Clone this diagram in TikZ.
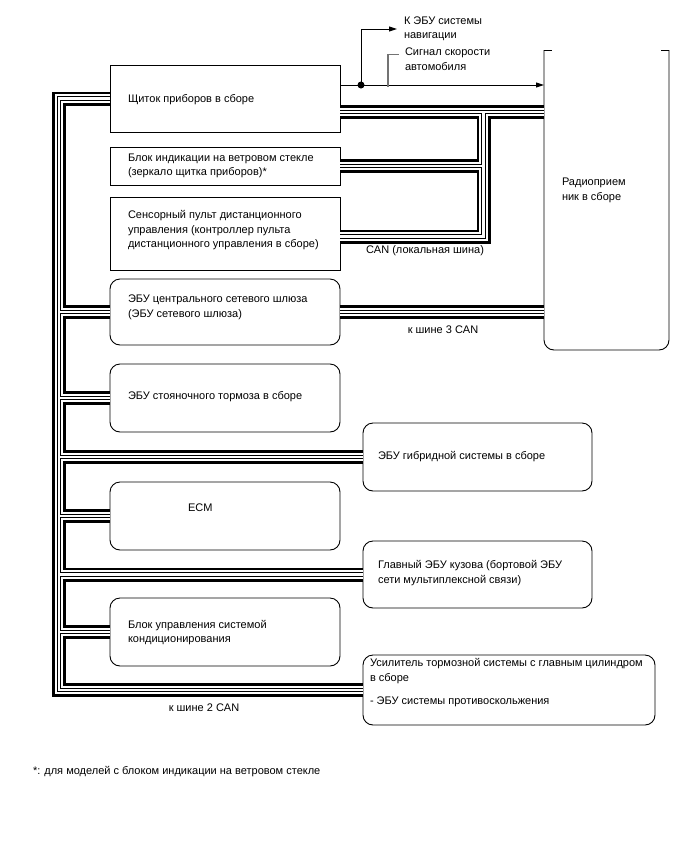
\documentclass[tikz,border=0pt]{standalone}
\usepackage{fontspec}
\setmainfont{Liberation Sans}
\usetikzlibrary{arrows.meta}
\begin{document}
\begin{tikzpicture}[x=1pt,y=-1pt,
  every node/.style={inner sep=0pt, outer sep=0pt},
  txt/.style={anchor=west, align=left, font=\fontsize{11}{14.5}\selectfont},
  sqbox/.style={draw, line width=0.9pt, anchor=north west},
  rbox/.style={draw, line width=0.9pt, anchor=north west, rounded corners=10pt},
  sig/.style={line width=1pt, -{Triangle[length=8pt,width=5pt]}},
  lead/.style={line width=1.3pt, draw=black!55}
]
\useasboundingbox (0,0) rectangle (688,852);

% boxes
\node[sqbox, minimum width=230, minimum height=67] (shchit) at (110,65) {};
\node[sqbox, minimum width=230, minimum height=38] (hud) at (110,147) {};
\node[sqbox, minimum width=230, minimum height=73] (touch) at (110,197) {};
\node[rbox, minimum width=230, minimum height=66] (gw) at (110,279) {};
\node[rbox, minimum width=230, minimum height=68] (park) at (110,364) {};
\node[rbox, minimum width=229, minimum height=68] (hyb) at (363,423) {};
\node[rbox, minimum width=230, minimum height=68] (ecm) at (110,482) {};
\node[rbox, minimum width=229, minimum height=67] (body) at (363,541) {};
\node[rbox, minimum width=230, minimum height=68] (ac) at (110,598) {};
\node[rbox, minimum width=292, minimum height=70] (brake) at (363,655) {};
\node[anchor=north west, minimum width=125, minimum height=300] (radio) at (544,50) {};
\draw[line width=0.9pt, rounded corners=10pt] (radio.north west) -- (radio.south west) -- (radio.south east) -- (radio.north east);
\draw[line width=0.9pt] (radio.north west) -- ++(8,0) (radio.north east) -- ++(-8,0);

% texts
\node[txt] (t1) at (128,100) {Щиток приборов в сборе};
\node[txt] (t2) at (128,166) {Блок индикации на ветровом стекле\\(зеркало щитка приборов)*};
\node[txt] (t3) at (128,230.5) {Сенсорный пульт дистанционного\\управления (контроллер пульта\\дистанционного управления в сборе)};
\node[txt] (t4) at (128,307.5) {ЭБУ центрального сетевого шлюза\\(ЭБУ сетевого шлюза)};
\node[txt] (t5) at (128,397) {ЭБУ стояночного тормоза в сборе};
\node[txt] (t6) at (378,457) {ЭБУ гибридной системы в сборе};
\node[txt] (t7) at (188,508) {ECM};
\node[txt] (t8) at (378,573) {Главный ЭБУ кузова (бортовой ЭБУ\\сети мультиплексной связи)};
\node[txt] (t9) at (128,632.5) {Блок управления системой\\кондиционирования};
\node[txt] (t10) at (370,683) {Усилитель тормозной системы с главным цилиндром\\в сборе\\[9pt]- ЭБУ системы противоскольжения};
\node[txt] (t11) at (562,190.5) {Радиоприем\\ник в сборе};
\node[txt] (nav) at (404,29) {К ЭБУ системы\\навигации};
\node[txt] (spd) at (405,59) {Сигнал скорости\\автомобиля};
\node[txt, anchor=center] (lcan) at (425,251) {CAN (локальная шина)};
\node[txt, anchor=center] (can3) at (443,330) {к шине 3 CAN};
\node[txt, anchor=center] (can2) at (204,708) {к шине 2 CAN};
\node[txt] (foot) at (33,772) {*: для моделей с блоком индикации на ветровом стекле};

% bus coordinates
\coordinate (tl) at (59,98.5);
\coordinate (bl) at (59,690);
\coordinate (lt) at (483.5,112);

\foreach \w/\c in {14/black, 8.4/white, 4.4/black, 2.3/white}{
  \draw[line width=\w pt, draw=\c, line join=miter]
    (shchit.west) -- (tl) -- (bl) -- (brake.west |- bl)
    (tl |- gw.west) -- (gw.west)
    (tl |- park.west) -- (park.west)
    (tl |- hyb.west) -- (hyb.west)
    (tl |- ecm.west) -- (ecm.west)
    (tl |- body.west) -- (body.west)
    (tl |- ac.west) -- (ac.west)
    (shchit.east |- lt) -- (radio.west |- lt)
    (lt) -- ([yshift=-3]lt |- touch.east) -- ([yshift=-3]touch.east)
    (lt |- hud.east) -- (hud.east)
    (gw.east) -- (radio.west |- gw.east);
}

% signal lines
\coordinate (sg) at (361,85);
\draw[sig] (shchit.east |- sg) -- (radio.west |- sg);
\node[circle, fill, minimum size=7pt] (dot) at (sg) {};
\draw[sig] (dot.center) |- ([xshift=-7pt]nav.west);
\draw[lead] ([yshift=-2pt]sg -| 388,0) |- ([xshift=-6pt]spd.west |- 0,54.5);
\end{tikzpicture}
\end{document}
